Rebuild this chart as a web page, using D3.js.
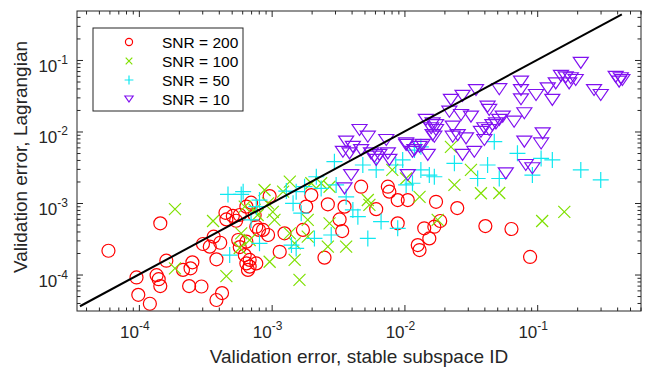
<!DOCTYPE html>
<html><head><meta charset="utf-8">
<script src="https://cdn.jsdelivr.net/npm/d3@7"></script>
<style>body{margin:0;background:#fff}svg{display:block}text{font-family:"Liberation Sans",Arial,Helvetica,sans-serif}</style>
</head><body><svg id="c" width="646" height="367"></svg>
<script>
// SNR = 200 (red circles)
const x200 = [5.9e-5,1.45e-4,9.6e-5,9.9e-5,1.21e-4,1.36e-4,1.41e-4,1.45e-4,1.61e-4,2.15e-4,2.45e-4,2.53e-4,2.39e-4,2.96e-4,3.04e-4,3.42e-4,3.66e-4,4.1e-4,3.84e-4,3.84e-4,4.23e-4,4.49e-4,4.56e-4,5.1e-4,5.4e-4,5.75e-4,7.0e-4,7.45e-4,7.66e-4,5.6e-4,6.45e-4,5.75e-4,6.27e-4,6.45e-4,6.83e-4,6.63e-4,7.66e-4,8.03e-4,9.66e-4,6.45e-4,8.6e-4,9.4e-4,1.15e-3,6.83e-4,1.25e-3,1.72e-3,1.82e-3,1.99e-3,2.65e-3,3.25e-3,3.4e-3,3.54e-3,4.72e-3,6.13e-3,7.5e-3,7.7e-3,8.9e-3,1.06e-2,8.9e-3,1.41e-2,1.54e-2,1.26e-2,1.3e-2,1.73e-2,1.68e-2,2.5e-3,1.86e-2,2.5e-2,4.07e-2,6.4e-2,8.84e-2];
const y200 = [2.15e-4,5.2e-4,9.1e-5,5.2e-5,3.9e-5,9.8e-5,8.6e-5,6.9e-5,1.56e-4,1.16e-4,1.22e-4,1.48e-4,6.9e-5,6.8e-5,2.67e-4,2.45e-4,3.38e-4,2.78e-4,1.63e-4,4.4e-5,5.5e-5,7.3e-4,5.9e-4,6.6e-4,5.65e-4,6.8e-4,1.01e-3,6.8e-4,4.66e-4,3.04e-4,2.88e-4,2.42e-4,1.87e-4,1.43e-4,1.29e-4,1.16e-4,1.43e-4,4.2e-4,1.25e-3,8.9e-4,4.2e-4,3.57e-4,2.08e-4,1.6e-4,3.77e-4,4.2e-4,8.9e-4,1.29e-3,9.6e-4,5.9e-4,4.05e-4,8.9e-4,1.69e-3,8.2e-4,1.69e-3,1.44e-3,1.1e-3,1.1e-3,5.2e-4,4.43e-4,3.2e-4,2.58e-4,2.2e-4,1.04e-3,4.66e-4,1.72e-4,5.6e-4,8.5e-4,4.76e-4,4.33e-4,1.76e-4];
// SNR = 100 (green crosses)
const x100 = [1.87e-4,3.62e-4,1.87e-4,4.56e-4,6.27e-4,5.9e-4,6.83e-4,5.75e-4,7.45e-4,7.84e-4,1.37e-3,8.84e-4,1.22e-3,1.99e-3,2.36e-3,2.73e-3,9.4e-4,1.02e-3,1.05e-3,1.87e-3,1.37e-3,1.49e-3,1.87e-3,2.73e-3,2.65e-3,3.64e-3,9.66e-4,1.49e-3,1.62e-3,5.3e-3,5.45e-3,1.3e-2,1.03e-2,1.78e-2,8.1e-3,2.24e-2,3.17e-2,2.38e-2,3.77e-2,5.18e-2,1.09e-1,1.6e-1];
const y100 = [8.2e-4,5.6e-4,1.22e-4,9.5e-5,8.9e-4,3.77e-4,3.04e-4,2.35e-4,8e-4,6.8e-4,1.99e-3,1.52e-3,1.44e-3,1.89e-3,1.89e-3,1.69e-3,9.9e-4,7.5e-4,5.8e-4,5.8e-4,3.77e-4,2.73e-4,3.38e-4,5.2e-4,2.45e-4,2.45e-4,1.51e-4,1.6e-4,8.4e-5,1.1e-3,9.4e-4,1.22e-3,2.2e-3,5.8e-4,2.9e-3,6.1e-3,2.9e-3,1.79e-3,1.37e-3,1.38e-3,5.6e-4,7.5e-4];
// SNR = 50 (cyan plus)
const x50 = [4.69e-4,5.9e-4,4.83e-4,7.66e-4,6.1e-4,8.1e-4,1.29e-3,1.53e-3,1.77e-3,2.17e-3,2.36e-3,3.06e-3,2.97e-3,3.64e-3,4.09e-3,4.46e-3,2.1e-3,2.81e-3,5.3e-3,6.67e-3,8.9e-3,1.53e-3,8.1e-4,1.67e-3,1.45e-3,4.86e-3,6.13e-3,9.7e-3,1.15e-2,1.03e-2,1.33e-2,1.68e-2,1.19e-2,1.33e-2,4.75e-2,7.1e-2,1.07e-1,1.3e-1,2.13e-1,3.01e-1,4.23e-2,2.38e-2,3.56e-2,5.18e-2,9.2e-2,1.54e-2,7.0e-4,1.41e-3,8.6e-3];
const y50 = [1.32e-3,1.32e-3,1.87e-4,8.9e-4,1.44e-3,1.1e-3,1.47e-3,1.44e-3,1.69e-3,2.33e-3,1.6e-3,1.79e-3,3.78e-3,1.22e-3,8e-4,6.45e-4,3.2e-4,3.57e-4,3.2e-4,5.5e-4,4.43e-4,2.32e-4,2.73e-4,7.2e-4,9.9e-4,3.4e-3,2.9e-3,4e-3,1.89e-3,1.79e-3,2.9e-3,2.33e-3,5.5e-3,6.1e-3,7.2e-3,4.95e-3,4.2e-3,4e-3,2.9e-3,2.1e-3,3.4e-3,3.59e-3,2.2e-3,2.2e-3,2.46e-3,2.46e-3,5.8e-4,2.58e-4,3.4e-3];
// SNR = 10 (purple triangles)
const x10 = [2.13e-1,1.51e-1,1.64e-1,1.79e-1,1.95e-1,1.74e-1,1.38e-1,1.2e-1,7.55e-2,7.55e-2,7.55e-2,9.8e-2,1.3e-1,2.68e-1,3.01e-1,3.9e-1,4.26e-1,4.38e-1,4.14e-1,5.18e-2,3.46e-2,2.74e-2,2.24e-2,4.23e-2,4.35e-2,2.18e-2,2.67e-2,3.17e-2,8e-2,6.7e-2,5.5e-2,5.18e-2,4.89e-2,4.6e-2,1.45e-2,1.63e-2,1.73e-2,1.59e-2,2.31e-2,1.68e-2,2.31e-2,2.52e-2,2.91e-2,4e-2,4.35e-2,3.77e-2,4e-2,3.36e-2,2.74e-2,8e-2,1.1e-1,1.07e-1,1.03e-2,1.19e-2,1.5e-2,8.2e-2,9.2e-2,5.8e-2,1.06e-2,4.59e-3,5.3e-3,3.64e-3,4.09e-3,3.44e-3,3.86e-3,4.72e-3,5.6e-3,5.95e-3,6.13e-3,6.48e-3,7.3e-3,7.5e-3,7.7e-3,1.03e-2,1.15e-2,1.3e-2,1.37e-2,1.63e-2,1.73e-2,3.97e-3,3.54e-3];
const y10 = [9.1e-2,6e-2,5.7e-2,5.55e-2,5.25e-2,4.7e-2,4.7e-2,4e-2,4.97e-2,3.8e-2,2.82e-2,3.24e-2,2.76e-2,3.8e-2,3.24e-2,5.8e-2,5.55e-2,5.25e-2,4.97e-2,3.9e-2,3.8e-2,3.14e-2,2.76e-2,2.22e-2,2e-2,1.89e-2,1.7e-2,1.61e-2,1.8e-2,1.37e-2,1.61e-2,1.45e-2,1.3e-2,1.23e-2,1.45e-2,1.3e-2,1.23e-2,1.11e-2,1.17e-2,8.45e-3,8.45e-3,8.9e-3,8e-3,1.11e-2,1.05e-2,9.9e-3,7.6e-3,5.2e-3,4.7e-3,7.2e-3,9.4e-3,6.8e-3,6.5e-3,5.5e-3,4.7e-3,3.4e-3,3.06e-3,2.6e-3,2.46e-3,1.05e-2,8.45e-3,7.2e-3,6.1e-3,5.2e-3,4.95e-3,5.5e-3,4.95e-3,4.45e-3,4e-3,4.7e-3,7.6e-3,4.95e-3,4e-3,6.8e-3,5.2e-3,6.1e-3,6.5e-3,8.9e-3,1.05e-2,2.46e-3,1.6e-3];
// identity reference line
const lineX = [3.6e-5, 0.434];
const seriesNames = ["SNR = 200","SNR = 100","SNR = 50","SNR = 10"];
const seriesColors = ["#ff0000","#7fe000","#10e8f0","#8010f0"];
const xTicks = [1e-4,1e-3,1e-2,1e-1];
const xTickExp = ["-4","-3","-2","-1"];
const yTicks = [1e-4,1e-3,1e-2,1e-1];
const yTickExp = ["-4","-3","-2","-1"];

const svg = d3.select("#c");
const L=77,R=641,T=11,B=311;
const x = d3.scaleLog().domain([3.42e-5,0.605]).range([L,R]);
const y = d3.scaleLog().domain([3.09e-5,0.484]).range([B,T]);
const axC = "#262626";

function minors(dom){const out=[];for(let e=-6;e<=0;e++)for(let k=1;k<=9;k++){const v=k*Math.pow(10,e);if(v>=dom[0]&&v<=dom[1])out.push(v);}return out;}
const xMin = minors(x.domain()).filter(v=>!xTicks.some(t=>Math.abs(t-v)/t<1e-9));
const yMin = minors(y.domain()).filter(v=>!yTicks.some(t=>Math.abs(t-v)/t<1e-9));

const plot = svg.append("g");
const series = [[x200,y200],[x100,y100],[x50,y50],[x10,y10]];
function marker(g,i,s,w){
  const c=seriesColors[i];
  if(i===0) g.append("circle").attr("r",6.5*s).attr("fill","none").attr("stroke",c).attr("stroke-width",w);
  else if(i===1) g.append("path").attr("d",`M${-6*s},${-6*s}L${6*s},${6*s}M${-6*s},${6*s}L${6*s},${-6*s}`).attr("stroke",c).attr("stroke-width",w).attr("fill","none");
  else if(i===2) g.append("path").attr("d",`M${-8*s},0L${8*s},0M0,${-8*s}L0,${8*s}`).attr("stroke",c).attr("stroke-width",w).attr("fill","none");
  else g.append("path").attr("d",`M${-7.5*s},${-5.5*s}L${7.5*s},${-5.5*s}L0,${5.5*s}Z`).attr("stroke",c).attr("stroke-width",w).attr("fill","none");
}
series.forEach((sr,i)=>{
  const pts = sr[0].map((v,j)=>[v,sr[1][j]]);
  const g = plot.append("g");
  g.selectAll("g").data(pts).enter().append("g")
   .attr("transform",d=>`translate(${x(d[0])},${y(d[1])})`)
   .each(function(){marker(d3.select(this),i,1,1.2);});
});
// identity line
plot.append("line").attr("x1",x(lineX[0])).attr("y1",y(lineX[0])).attr("x2",x(lineX[1])).attr("y2",y(lineX[1]))
  .attr("stroke","#000").attr("stroke-width",2);

// axes (matlab style: ticks inside, all four sides)
function styleAx(g){g.select(".domain").remove();g.selectAll("line").attr("stroke",axC);g.selectAll("text").remove();}
svg.append("g").attr("transform",`translate(0,${B})`).call(d3.axisBottom(x).tickValues(xTicks).tickSize(-6)).call(styleAx);
svg.append("g").attr("transform",`translate(0,${B})`).call(d3.axisBottom(x).tickValues(xMin).tickSize(-3.5)).call(styleAx);
svg.append("g").attr("transform",`translate(0,${T})`).call(d3.axisTop(x).tickValues(xTicks).tickSize(-6)).call(styleAx);
svg.append("g").attr("transform",`translate(0,${T})`).call(d3.axisTop(x).tickValues(xMin).tickSize(-3.5)).call(styleAx);
svg.append("g").attr("transform",`translate(${L},0)`).call(d3.axisLeft(y).tickValues(yTicks).tickSize(-6)).call(styleAx);
svg.append("g").attr("transform",`translate(${L},0)`).call(d3.axisLeft(y).tickValues(yMin).tickSize(-3.5)).call(styleAx);
svg.append("g").attr("transform",`translate(${R},0)`).call(d3.axisRight(y).tickValues(yTicks).tickSize(-6)).call(styleAx);
svg.append("g").attr("transform",`translate(${R},0)`).call(d3.axisRight(y).tickValues(yMin).tickSize(-3.5)).call(styleAx);
svg.append("rect").attr("x",L).attr("y",T).attr("width",R-L).attr("height",B-T).attr("fill","none").attr("stroke",axC).attr("stroke-width",1);

// tick labels
xTicks.forEach((v,i)=>{
  const t=svg.append("text").attr("x",x(v)-4).attr("y",338).attr("text-anchor","middle").attr("fill",axC).attr("font-size",17);
  t.append("tspan").text("10");
  t.append("tspan").attr("dy",-8).attr("font-size",12).text(xTickExp[i]);
});
yTicks.forEach((v,i)=>{
  const t=svg.append("text").attr("x",68).attr("y",y(v)+12).attr("text-anchor","end").attr("fill",axC).attr("font-size",17);
  t.append("tspan").text("10");
  t.append("tspan").attr("dy",-8).attr("font-size",12).text(yTickExp[i]);
});
// axis labels
svg.append("text").attr("x",(L+R)/2).attr("y",363).attr("text-anchor","middle").attr("fill",axC).attr("font-size",19).text("Validation error, stable subspace ID");
svg.append("text").attr("transform",`translate(27,${(T+B)/2-4}) rotate(-90)`).attr("text-anchor","middle").attr("fill",axC).attr("font-size",19).text("Validation error, Lagrangian");

// legend
const lg = svg.append("g");
lg.append("rect").attr("x",93).attr("y",28).attr("width",150).attr("height",83).attr("fill","#fff").attr("stroke",axC).attr("stroke-width",1);
const rows=[42,61,80,99];
seriesNames.forEach((n,i)=>{
  const g=lg.append("g").attr("transform",`translate(129,${rows[i]})`);
  marker(g,i,0.55,1.2);
  lg.append("text").attr("x",162).attr("y",rows[i]+5.5).attr("font-size",15.5).attr("fill","#000").text(n);
});
</script></body></html>
